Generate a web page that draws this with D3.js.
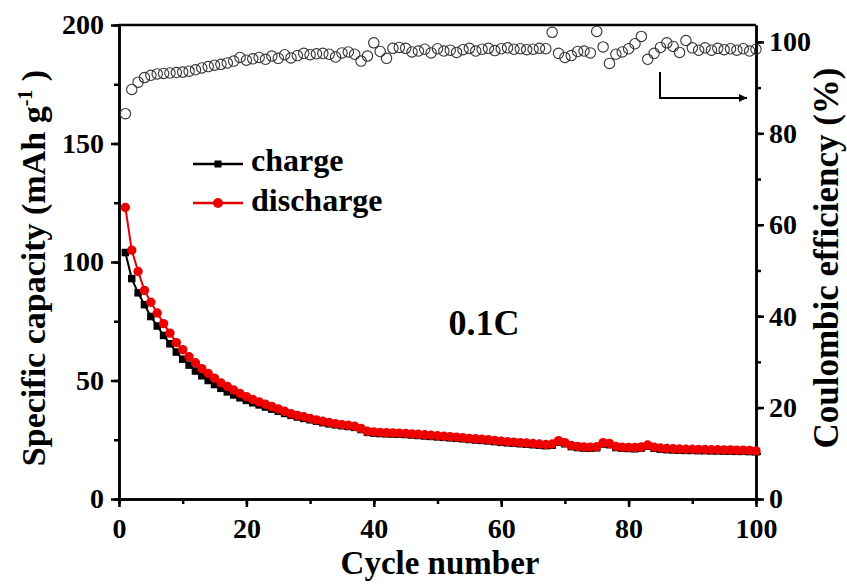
<!DOCTYPE html>
<html>
<head>
<meta charset="utf-8">
<script src="https://cdn.jsdelivr.net/npm/d3@7"></script>
<style>
	body { margin: 0; background: #fff; }
	text { font-family: "Liberation Serif", "Times New Roman", serif; font-weight: bold; fill: #000; }
</style>
</head>
<body>
<svg></svg>
<script>
const width = 847;
const height = 588;

const cycles = d3.range(1, 101);

const dischargeCapacity = [
	123, 105, 96, 88, 83, 78.5, 74, 70, 66, 63,
	60, 57.5, 55, 53, 51, 49, 47.5, 46, 44.5, 43.2,
	42, 41, 40, 39, 38, 37, 36, 35.3, 34.7, 34,
	33.4, 32.8, 32.3, 31.8, 31.4, 31.1, 30.7, 29.8, 28.6, 28.3,
	28.1, 28, 27.9, 27.8, 27.7, 27.5, 27.3, 27.1, 26.9, 26.7,
	26.5, 26.3, 26.1, 25.9, 25.6, 25.4, 25.2, 25, 24.7, 24.4,
	24.2, 24, 23.8, 23.6, 23.4, 23.2, 23, 23.2, 24.6, 23.8,
	22.6, 22.2, 22, 21.9, 22.1, 23.8, 23.4, 22.2, 21.9, 21.8,
	21.7, 22, 22.8, 21.9, 21.5, 21.3, 21.2, 21.1, 21, 21,
	20.9, 20.9, 20.8, 20.8, 20.7, 20.7, 20.6, 20.6, 20.5, 20.3
];

const chargeCapacity = [
	104, 93, 87, 82, 77, 73, 69, 65.5, 62, 59,
	56.5, 54, 52, 50, 48.3, 46.7, 45.2, 43.9, 42.7, 41.6,
	40.6, 39.7, 38.8, 37.9, 37, 36.1, 35.3, 34.6, 34, 33.4,
	32.8, 32.2, 31.7, 31.3, 30.9, 30.6, 30.2, 29.3, 28.1, 27.8,
	27.6, 27.5, 27.4, 27.3, 27.2, 27, 26.8, 26.6, 26.4, 26.2,
	26, 25.8, 25.6, 25.4, 25.1, 24.9, 24.7, 24.5, 24.2, 23.9,
	23.7, 23.5, 23.3, 23.1, 22.9, 22.7, 22.5, 22.7, 24, 23.3,
	22.1, 21.7, 21.5, 21.4, 21.6, 23.2, 22.9, 21.7, 21.4, 21.3,
	21.2, 21.5, 22.3, 21.4, 21, 20.8, 20.7, 20.6, 20.5, 20.5,
	20.4, 20.4, 20.3, 20.3, 20.2, 20.2, 20.1, 20.1, 20, 19.9
];

const coulombicEfficiency = [
	84.3, 89.6, 91.2, 92.2, 92.7, 93, 93.1, 93.2, 93.3, 93.4,
	93.6, 93.9, 94.3, 94.6, 94.9, 95.1, 95.4, 95.8, 96.6, 96,
	96.3, 96.6, 96.2, 96.9, 96.4, 97.2, 96.5, 97, 97.5, 97.2,
	97.4, 97.5, 97.3, 96.7, 97.6, 97.8, 97.3, 95.8, 96.9, 99.8,
	97.9, 96.4, 98.6, 98.8, 98.6, 97.8, 98, 98.4, 97.6, 98.5,
	98, 98.2, 97.7, 98.3, 98.6, 98, 98.4, 98.6, 98.1, 98.5,
	98.7, 98.4, 98.5, 98.3, 98.4, 98.6, 98.5, 102.1, 97.5, 96.6,
	97, 97.9, 98, 97.6, 102.3, 98.9, 95.3, 97.3, 97.8, 98.5,
	99.6, 101.2, 96.2, 97.5, 98.8, 99.8, 99, 97.7, 100.3, 98.7,
	98.2, 98.7, 98.2, 98.6, 98.3, 98.5, 98.2, 98.5, 98, 98.4
];

const xTicks = [0, 20, 40, 60, 80, 100];
const leftTicks = [0, 50, 100, 150, 200];
const rightTicks = [0, 20, 40, 60, 80, 100];

const plotLeft = 119, plotRight = 756, plotTop = 25, plotBottom = 499;

const svg = d3.select('svg')
	.attr('width', width)
	.attr('height', height);

const x = d3.scaleLinear().domain([0, 100]).range([plotLeft, plotRight]);
const yCap = d3.scaleLinear().domain([0, 200]).range([plotBottom, plotTop]);
const yEff = d3.scaleLinear().domain([0, 103.7]).range([plotBottom, plotTop]);

// axes
const axisStyle = (g) => {
	g.select('.domain').attr('stroke-width', 2.5);
	g.selectAll('line').attr('stroke-width', 2.5);
	g.selectAll('text').attr('font-size', 28);
};

svg.append('g')
	.attr('transform', `translate(0,${plotBottom})`)
	.call(d3.axisBottom(x).tickValues(d3.range(0, 101, 10)).tickSize(5).tickSizeOuter(0).tickFormat(''))
	.call(g => g.selectAll('line').attr('stroke-width', 2.5));
svg.append('g')
	.attr('transform', `translate(0,${plotBottom})`)
	.call(d3.axisBottom(x).tickValues(xTicks).tickSize(8).tickSizeOuter(0).tickPadding(11))
	.call(axisStyle);

svg.append('g')
	.attr('transform', `translate(${plotLeft},0)`)
	.call(d3.axisLeft(yCap).tickValues(d3.range(0, 201, 25)).tickSize(5).tickSizeOuter(0).tickFormat(''))
	.call(g => g.selectAll('line').attr('stroke-width', 2.5));
svg.append('g')
	.attr('transform', `translate(${plotLeft},0)`)
	.call(d3.axisLeft(yCap).tickValues(leftTicks).tickSize(8).tickSizeOuter(0).tickPadding(7))
	.call(axisStyle);

svg.append('g')
	.attr('transform', `translate(${plotRight},0)`)
	.call(d3.axisRight(yEff).tickValues(d3.range(0, 101, 10)).tickSize(5).tickSizeOuter(0).tickFormat(''))
	.call(g => g.selectAll('line').attr('stroke-width', 2.5));
svg.append('g')
	.attr('transform', `translate(${plotRight},0)`)
	.call(d3.axisRight(yEff).tickValues(rightTicks).tickSize(8).tickSizeOuter(0).tickPadding(5))
	.call(axisStyle);

svg.append('line')
	.attr('x1', plotLeft).attr('x2', plotRight)
	.attr('y1', plotTop).attr('y2', plotTop)
	.attr('stroke', '#000')
	.attr('stroke-width', 2.5);
svg.selectAll('.domain').attr('stroke-width', 2.5);

// efficiency circles
svg.append('g').selectAll('circle')
	.data(coulombicEfficiency)
	.enter()
	.append('circle')
	.attr('cx', (d, i) => x(cycles[i]))
	.attr('cy', d => yEff(d))
	.attr('r', 5.2)
	.attr('fill', 'none')
	.attr('stroke', '#333')
	.attr('stroke-width', 1.1);

// charge
const line = d3.line()
	.x((d, i) => x(cycles[i]))
	.y(d => yCap(d));

svg.append('path')
	.attr('d', line(chargeCapacity))
	.attr('fill', 'none')
	.attr('stroke', '#000')
	.attr('stroke-width', 2);
svg.append('g').selectAll('rect')
	.data(chargeCapacity)
	.enter()
	.append('rect')
	.attr('x', (d, i) => x(cycles[i]) - 3.75)
	.attr('y', d => yCap(d) - 3.75)
	.attr('width', 7.5)
	.attr('height', 7.5)
	.attr('fill', '#000');

// discharge
svg.append('path')
	.attr('d', line(dischargeCapacity))
	.attr('fill', 'none')
	.attr('stroke', '#e00000')
	.attr('stroke-width', 2);
svg.append('g').selectAll('circle')
	.data(dischargeCapacity)
	.enter()
	.append('circle')
	.attr('cx', (d, i) => x(cycles[i]))
	.attr('cy', d => yCap(d))
	.attr('r', 4.7)
	.attr('fill', '#ee0000');

// legend
const legend = svg.append('g');
legend.append('line')
	.attr('x1', 193).attr('x2', 243).attr('y1', 164).attr('y2', 164)
	.attr('stroke', '#000').attr('stroke-width', 2.5);
legend.append('rect')
	.attr('x', 214.5).attr('y', 160.5).attr('width', 7).attr('height', 7)
	.attr('fill', '#000');
legend.append('text')
	.attr('x', 251).attr('y', 171)
	.attr('font-size', 32)
	.text('charge');
legend.append('line')
	.attr('x1', 193).attr('x2', 243).attr('y1', 203).attr('y2', 203)
	.attr('stroke', '#e00000').attr('stroke-width', 2.5);
legend.append('circle')
	.attr('cx', 218).attr('cy', 203).attr('r', 5)
	.attr('fill', '#ee0000');
legend.append('text')
	.attr('x', 251).attr('y', 211)
	.attr('font-size', 32)
	.text('discharge');

svg.append('text')
	.attr('x', 484).attr('y', 335)
	.attr('text-anchor', 'middle')
	.attr('font-size', 36)
	.text('0.1C');

// arrow
svg.append('defs').append('marker')
	.attr('id', 'head')
	.attr('viewBox', '0 0 10 10')
	.attr('refX', 10).attr('refY', 5)
	.attr('markerWidth', 14).attr('markerHeight', 8)
	.attr('markerUnits', 'userSpaceOnUse')
	.attr('orient', 'auto')
	.append('path')
	.attr('d', 'M0,0L10,5L0,10Z')
	.attr('fill', '#000');
svg.append('path')
	.attr('d', 'M660,72V98H747')
	.attr('fill', 'none')
	.attr('stroke', '#000')
	.attr('stroke-width', 2)
	.attr('marker-end', 'url(#head)');

// axis titles
svg.append('text')
	.attr('transform', `translate(440,574)`)
	.attr('text-anchor', 'middle')
	.attr('font-size', 33)
	.text('Cycle number');

const yTitle = svg.append('text')
	.attr('transform', `translate(45,268) rotate(-90)`)
	.attr('text-anchor', 'middle')
	.attr('font-size', 34);
yTitle.append('tspan').text('Specific capacity (mAh g');
yTitle.append('tspan').attr('dy', -13).attr('font-size', 20).text('-1');
yTitle.append('tspan').attr('dy', 13).text(' )');

svg.append('text')
	.attr('transform', `translate(838,258) rotate(-90)`)
	.attr('text-anchor', 'middle')
	.attr('font-size', 35)
	.text('Coulombic efficiency (%)');
</script>
</body>
</html>
